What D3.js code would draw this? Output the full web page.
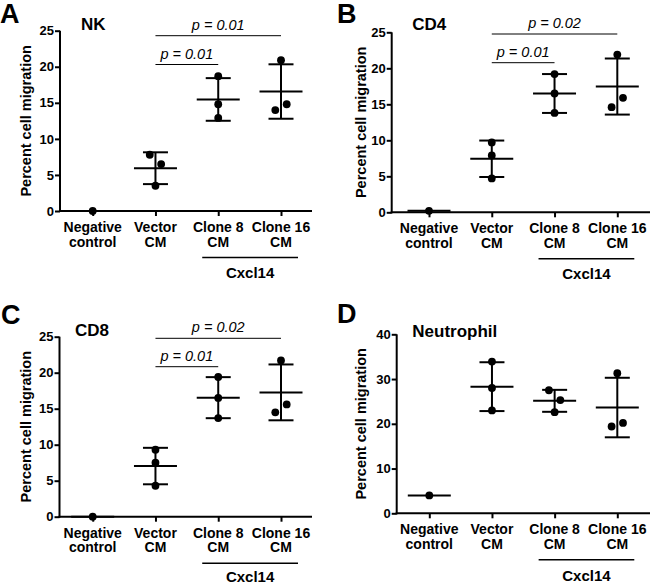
<!DOCTYPE html>
<html>
<head>
<meta charset="utf-8">
<script src="https://cdn.jsdelivr.net/npm/d3@7"></script>
<style>
  html, body { margin: 0; padding: 0; background: #fff; }
  svg { display: block; }
  text { font-family: Arial, "Liberation Sans", Helvetica, sans-serif; fill: #000; }
</style>
</head>
<body>
<div id="chart"></div>
<script>
// ---------------- DATA ----------------
const categories = [["Negative", "control"], ["Vector", "CM"], ["Clone 8", "CM"], ["Clone 16", "CM"]];
const categoryKeys = ["neg", "vector", "clone8", "clone16"];
const panelLetters = ["A", "B", "C", "D"];
const panelTitles = ["NK", "CD4", "CD8", "Neutrophil"];
const groupLabel = "Cxcl14";
const yAxisLabel = "Percent cell migration";

const nkValues = [[0], [7.8, 6.5, 3.5], [18.7, 14.8, 12.9], [20.9, 14.0, 14.8]];
const cd4Values = [[0.2], [9.7, 7.9, 4.7], [19.2, 16.5, 13.8], [21.9, 14.6, 15.9]];
const cd8Values = [[0], [9.3, 7.5, 4.3], [19.4, 16.5, 13.7], [21.7, 14.5, 15.6]];
const neutrophilValues = [[4.0], [33.9, 28.0, 23.0], [27.5, 25.3, 22.6], [31.3, 19.4, 20.2]];

// horizontal nudge direction of overlapping points (-1 left, 0 centre, 1 right)
const nkJitter = [[0], [-1, 1, 0], [0, 0, 0], [0, -1, 1]];
const cd4Jitter = [[0], [0, 0, 0], [0, 0, 0], [0, -1, 1]];
const cd8Jitter = [[0], [0, 0, 0], [0, 0, 0], [0, -1, 1]];
const neutrophilJitter = [[0], [0, 0, 0], [-1, 1, 0], [0, -1, 1]];

const yTicks25 = [0, 5, 10, 15, 20, 25];
const yTicks40 = [0, 10, 20, 30, 40];

// comparisons: [from category index, to category index, label]
const nkPValues = [[1, 2, "p = 0.01"], [1, 3, "p = 0.01"]];
const cd4PValues = [[1, 2, "p = 0.01"], [1, 3, "p = 0.02"]];
const cd8PValues = [[1, 2, "p = 0.01"], [1, 3, "p = 0.02"]];
const neutrophilPValues = [];

// ---------------- LAYOUT ----------------
const W = 650, H = 585;
const panels = [
  { values: nkValues, jitter: nkJitter, ticks: yTicks25, pvals: nkPValues,
    ox: 60, top: 30.7, bottom: 211, xFirst: 92.7, xLast: 281, xEnd: 312,
    titleX: 81, titleY: 29.5, letterX: 0, letterY: 23, ylabX: 31, brY: [64.5, 35.7], cxY: 67 },
  { values: cd4Values, jitter: cd4Jitter, ticks: yTicks25, pvals: cd4PValues,
    ox: 391.7, top: 32.3, bottom: 212.3, xFirst: 429, xLast: 617.3, xEnd: 650,
    titleX: 412.3, titleY: 30, letterX: 337, letterY: 23, ylabX: 366, brY: [62.7, 34], cxY: 67 },
  { values: cd8Values, jitter: cd8Jitter, ticks: yTicks25, pvals: cd8PValues,
    ox: 59.5, top: 336.7, bottom: 516.7, xFirst: 92.7, xLast: 281, xEnd: 312,
    titleX: 75, titleY: 336.2, letterX: 1, letterY: 324, ylabX: 31, brY: [366.7, 338.3], cxY: 64.8 },
  { values: neutrophilValues, jitter: neutrophilJitter, ticks: yTicks40, pvals: neutrophilPValues,
    ox: 396.7, top: 334.3, bottom: 513.3, xFirst: 429.3, xLast: 617.3, xEnd: 650,
    titleX: 412.3, titleY: 336.7, letterX: 337, letterY: 323, ylabX: 366, brY: [], cxY: 68 }
];

const svg = d3.select("#chart").append("svg").attr("width", W).attr("height", H);

panels.forEach((p, pi) => {
  const g = svg.append("g");
  const yMax = d3.max(p.ticks);
  const y = d3.scaleLinear().domain([0, yMax]).range([p.bottom, p.top]);
  const x = d3.scalePoint().domain(categoryKeys).range([p.xFirst, p.xLast]).padding(0);

  // y axis
  const yAx = g.append("g").attr("transform", `translate(${p.ox},0)`)
    .call(d3.axisLeft(y).tickValues(p.ticks).tickSize(5).tickSizeOuter(0).tickPadding(1));
  yAx.select(".domain").attr("stroke", "#000").attr("stroke-width", 2).attr("d", `M0,${p.bottom + 1}V${p.top}`);
  yAx.selectAll(".tick line").attr("stroke", "#000").attr("stroke-width", 2);
  yAx.selectAll(".tick text").attr("font-size", 13).attr("font-weight", "bold")
    .attr("font-family", "Arial, 'Liberation Sans', sans-serif").attr("fill", "#000");

  // x axis
  const xAx = g.append("g").attr("transform", `translate(0,${p.bottom})`)
    .call(d3.axisBottom(x).tickSize(5).tickFormat(""));
  xAx.select(".domain").remove();
  xAx.selectAll(".tick line").attr("stroke", "#000").attr("stroke-width", 2);
  g.append("line").attr("x1", p.ox - 1).attr("x2", p.xEnd).attr("y1", p.bottom).attr("y2", p.bottom)
    .attr("stroke", "#000").attr("stroke-width", 2);

  // category labels
  categories.forEach((c, ci) => {
    const t = g.append("text").attr("text-anchor", "middle").attr("font-size", 14).attr("font-weight", "bold");
    t.append("tspan").attr("x", x(categoryKeys[ci])).attr("y", p.bottom + 21).text(c[0]);
    t.append("tspan").attr("x", x(categoryKeys[ci])).attr("y", p.bottom + 35.5).text(c[1]);
  });

  // Cxcl14 group bracket
  const gx1 = x("clone8") - 16, gx2 = x("clone16") + 17;
  g.append("line").attr("x1", gx1).attr("x2", gx2).attr("y1", p.bottom + 46.5).attr("y2", p.bottom + 46.5)
    .attr("stroke", "#000").attr("stroke-width", 1.5);
  g.append("text").attr("x", (gx1 + gx2) / 2).attr("y", Math.min(p.bottom + p.cxY, 581.5)).attr("text-anchor", "middle")
    .attr("font-size", 15).attr("font-weight", "bold").text(groupLabel);

  // y axis label
  g.append("text").attr("transform", `translate(${p.ylabX},${(p.top + p.bottom) / 2}) rotate(-90)`)
    .attr("text-anchor", "middle").attr("font-size", 14.5).attr("font-weight", "bold").text(yAxisLabel);

  // title & letter
  g.append("text").attr("x", p.titleX).attr("y", p.titleY).attr("font-size", 17).attr("font-weight", "bold").text(panelTitles[pi]);
  g.append("text").attr("x", p.letterX).attr("y", p.letterY).attr("font-size", 27).attr("font-weight", "bold").text(panelLetters[pi]);

  // mean & SD
  p.values.forEach((vals, ci) => {
    const cx = x(categoryKeys[ci]);
    const m = d3.mean(vals);
    const sd = vals.length > 1 ? d3.deviation(vals) : 0;
    const ln = (x1, y1, x2, y2) => g.append("line").attr("x1", x1).attr("y1", y1).attr("x2", x2).attr("y2", y2)
      .attr("stroke", "#000").attr("stroke-width", 2);
    ln(cx - 21.5, y(m), cx + 21.5, y(m));
    if (sd > 0) {
      ln(cx, y(m + sd), cx, y(m - sd));
      ln(cx - 12.5, y(m + sd), cx + 12.5, y(m + sd));
      ln(cx - 12.5, y(m - sd), cx + 12.5, y(m - sd));
    }
    vals.forEach((v, vi) => {
      g.append("circle").attr("cx", cx + p.jitter[ci][vi] * 5.7).attr("cy", y(v)).attr("r", 3.9).attr("fill", "#000");
    });
  });

  // p-value brackets
  p.pvals.forEach((pv, k) => {
    const x1 = x(categoryKeys[pv[0]]), x2 = x(categoryKeys[pv[1]]);
    const by = p.brY[k];
    g.append("line").attr("x1", x1).attr("x2", x2).attr("y1", by).attr("y2", by)
      .attr("stroke", "#000").attr("stroke-width", 1);
    g.append("text").attr("x", (x1 + x2) / 2).attr("y", by - 6).attr("text-anchor", "middle")
      .attr("font-size", 14.5).attr("font-style", "italic").text(pv[2]);
  });
});
</script>
</body>
</html>
